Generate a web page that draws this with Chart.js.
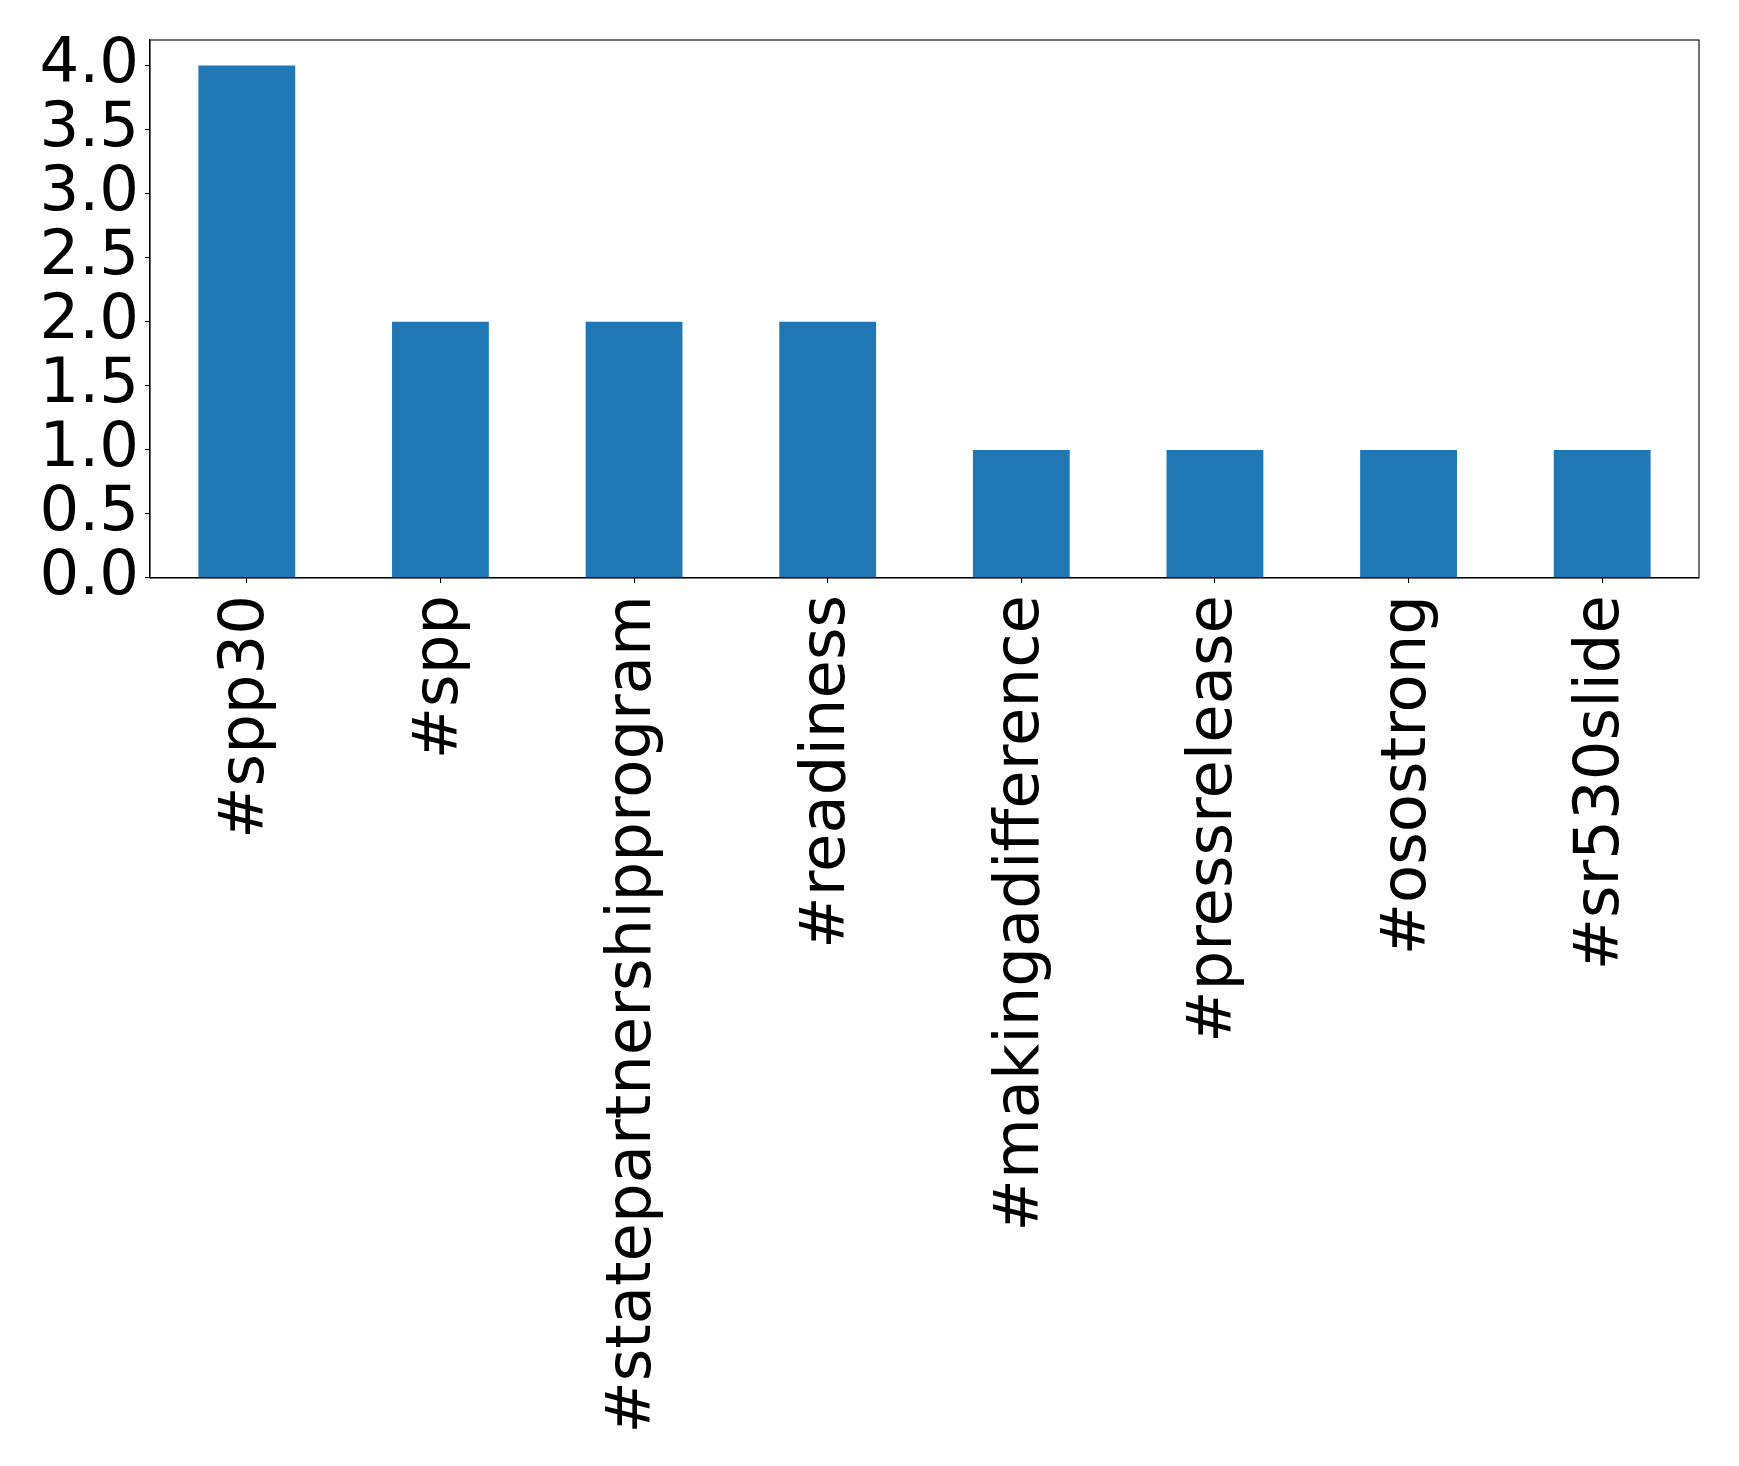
<!DOCTYPE html>
<html>
<head>
<meta charset="utf-8">
<script src="https://cdn.jsdelivr.net/npm/chart.js@4"></script>
<style>
  body { margin: 0; background: #ffffff; }
  canvas { display: block; }
</style>
</head>
<body>
<canvas id="tagChart" width="1739" height="1466"></canvas>
<script>
// Data
const hashtags = ['#spp30', '#spp', '#statepartnershipprogram', '#readiness',
    '#makingadifference', '#pressrelease', '#osostrong', '#sr530slide'];
const counts = [4, 2, 2, 2, 1, 1, 1, 1];
const yTickValues = [0, 0.5, 1, 1.5, 2, 2.5, 3, 3.5, 4];

const tickFont = { family: 'DejaVu Sans', size: 62.5 };

// draws the box round the plot, like matplotlib spines
const framePlugin = {
    id: 'frame',
    afterDraw(chart) {
        const { ctx, chartArea } = chart;
        ctx.save();
        ctx.strokeStyle = '#000000';
        ctx.lineWidth = 1.1;
        ctx.strokeRect(chartArea.left, chartArea.top,
            chartArea.right - chartArea.left, chartArea.bottom - chartArea.top);
        ctx.restore();
    }
};

const ctx = document.getElementById('tagChart').getContext('2d');

new Chart(ctx, {
    type: 'bar',
    data: {
        labels: hashtags,
        datasets: [{
            data: counts,
            backgroundColor: '#1f77b4',
            borderWidth: 0,
            barPercentage: 0.5,
            categoryPercentage: 1.0
        }]
    },
    options: {
        responsive: false,
        animation: false,
        layout: { padding: { top: 40, right: 40, left: 0, bottom: 0 } },
        plugins: {
            legend: { display: false },
            tooltip: { enabled: false }
        },
        scales: {
            x: {
                offset: true,
                grid: { offset: false, drawOnChartArea: false, color: '#000000', tickLength: 5, lineWidth: 1.1 },
                border: { display: true, color: '#000000', width: 1.1 },
                ticks: {
                    color: '#000000',
                    font: tickFont,
                    minRotation: 90,
                    maxRotation: 90,
                    autoSkip: false,
                    padding: 12
                },
                afterFit(scale) {
                    scale.height = 888;
                    scale.paddingLeft = 0;
                    scale.paddingRight = 0;
                }
            },
            y: {
                min: 0,
                max: 4.2,
                grid: { drawOnChartArea: false, color: '#000000', tickLength: 5, lineWidth: 1.1 },
                border: { display: true, color: '#000000', width: 1.1 },
                ticks: {
                    color: '#000000',
                    font: tickFont,
                    padding: 6,
                    autoSkip: false,
                    callback: (v) => Number(v).toFixed(1)
                },
                afterBuildTicks(scale) {
                    scale.ticks = yTickValues.map(v => ({ value: v }));
                },
                afterFit(scale) {
                    scale.width = 150;
                    scale.paddingTop = 0;
                    scale.paddingBottom = 0;
                }
            }
        }
    },
    plugins: [framePlugin]
});
</script>
</body>
</html>
